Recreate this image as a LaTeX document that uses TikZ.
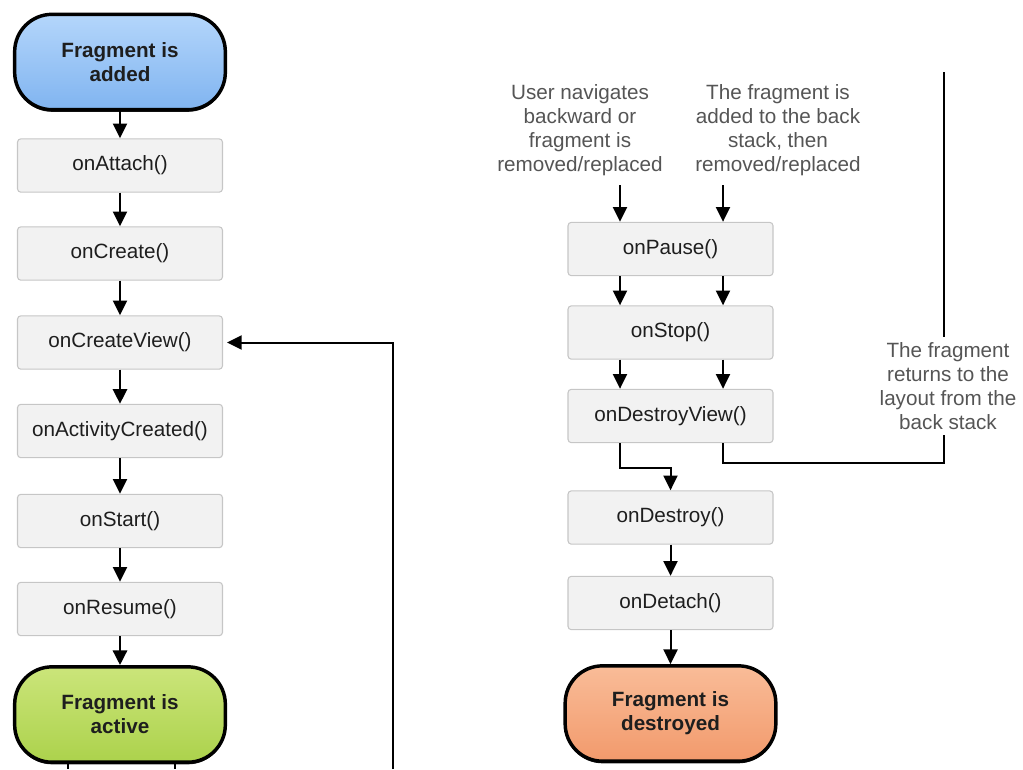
\documentclass[tikz,border=0pt]{standalone}
\usepackage{fontspec}
\setmainfont{Liberation Sans}
\usetikzlibrary{arrows.meta,shadows}

\definecolor{boxfill}{HTML}{F2F2F2}
\definecolor{boxline}{HTML}{C6C6C6}
\definecolor{notegray}{HTML}{555555}
\definecolor{inktext}{HTML}{1E1E1E}
\definecolor{addedtop}{HTML}{B4D6FB}
\definecolor{addedbot}{HTML}{80B4F0}
\definecolor{activetop}{HTML}{CBE57A}
\definecolor{activebot}{HTML}{ACD24C}
\definecolor{destroyedtop}{HTML}{F9BC98}
\definecolor{destroyedbot}{HTML}{F29A6C}

\tikzset{
  callback/.style={draw=boxline, fill=boxfill, rounded corners=2.5pt, line width=0.8pt,
    minimum width=153.75pt, minimum height=40pt, text=inktext,
    font=\fontsize{15.5}{18}\selectfont},
  state/.style={draw=black, line width=2.6pt, rounded corners=28pt,
    minimum width=158pt, minimum height=71.5pt, align=center, text=inktext,
    font=\fontsize{15.5}{18}\selectfont\bfseries,
    drop shadow={shadow xshift=0pt, shadow yshift=-1.6pt, fill=black, opacity=0.9}},
  note/.style={align=center, text=notegray, inner sep=2pt,
    font=\fontsize{15.5}{18}\selectfont},
  flow/.style={line width=1.5pt, -{Triangle[length=11pt,width=10.5pt]}},
  wire/.style={line width=1.4pt},
}

\begin{document}
\begin{tikzpicture}[x=0.75pt, y=-0.75pt]
\useasboundingbox (0,0) rectangle (1023,769);

% ---- creation column ----
\node[state, top color=addedtop, bottom color=addedbot] (added) at (120,62) {Fragment is\\added};
\node[callback] (attach)  at (120,165.5) {onAttach()};
\node[callback] (create)  at (120,253.5) {onCreate()};
\node[callback] (cview)   at (120,342.5) {onCreateView()};
\node[callback] (actc)    at (120,431)   {onActivityCreated()};
\node[callback] (start)   at (120,521)   {onStart()};
\node[callback] (resume)  at (120,609)   {onResume()};
\node[state, top color=activetop, bottom color=activebot] (active) at (120,714.5) {Fragment is\\active};

\draw[flow] (added)  -- (attach);
\draw[flow] (attach) -- (create);
\draw[flow] (create) -- (cview);
\draw[flow, line width=2.2pt] (cview) -- (actc);
\draw[flow] (actc)   -- (start);
\draw[flow] (start)  -- (resume);
\draw[flow, line width=2.2pt] (resume) -- (active);

% lines leaving the active state
\coordinate (outA) at (68,769);
\coordinate (outB) at (175,769);
\draw[wire] (active.south -| outA) -- (outA);
\draw[wire] (active.south -| outB) -- (outB);

% return into onCreateView()
\coordinate (ret) at (393,769);
\draw[flow] (ret) |- ([xshift=3pt]cview.east);

% ---- teardown column ----
\coordinate (colL) at (620,0);
\coordinate (colR) at (723,0);
\coordinate (colS) at (944,0);

\node[note] (why1) at (580,130) {User navigates\\backward or\\fragment is\\removed/replaced};
\node[note] (why2) at (778,130) {The fragment is\\added to the back\\stack, then\\removed/replaced};
\node[note] (back) at (948,386) {The fragment\\returns to the\\layout from the\\back stack};

\node[callback] (pause)   at (670.5,249)   {onPause()};
\node[callback] (stop)    at (670.5,332.5) {onStop()};
\node[callback] (dview)   at (670.5,416)   {onDestroyView()};
\node[callback] (destroy) at (670.5,517.5) {onDestroy()};
\node[callback] (detach)  at (670.5,603)   {onDetach()};
\node[state, top color=destroyedtop, bottom color=destroyedbot] (destroyed) at (670.5,713.5) {Fragment is\\destroyed};

\draw[flow] ([yshift=-5pt]why1.south -| colL) -- (pause.north -| colL);
\draw[flow] ([yshift=-5pt]why2.south -| colR) -- (pause.north -| colR);
\draw[flow] (pause.south -| colL) -- (stop.north -| colL);
\draw[flow] (pause.south -| colR) -- (stop.north -| colR);
\draw[flow] (stop.south -| colL)  -- (dview.north -| colL);
\draw[flow] (stop.south -| colR)  -- (dview.north -| colR);

\coordinate (split) at (670.5,468);
\draw[flow] (dview.south -| colL) |- (split) -- (destroy.north);
\draw[flow] (destroy) -- (detach);
\draw[flow] (detach)  -- (destroyed);

% path back to the layout
\coordinate (top) at (944,72);
\coordinate (hook) at (944,463);
\draw[wire] (top) -- ([yshift=2pt]back.north -| colS);
\draw[wire] (dview.south -| colR) |- (hook) -- ([yshift=-2pt]back.south -| colS);
\end{tikzpicture}
\end{document}
